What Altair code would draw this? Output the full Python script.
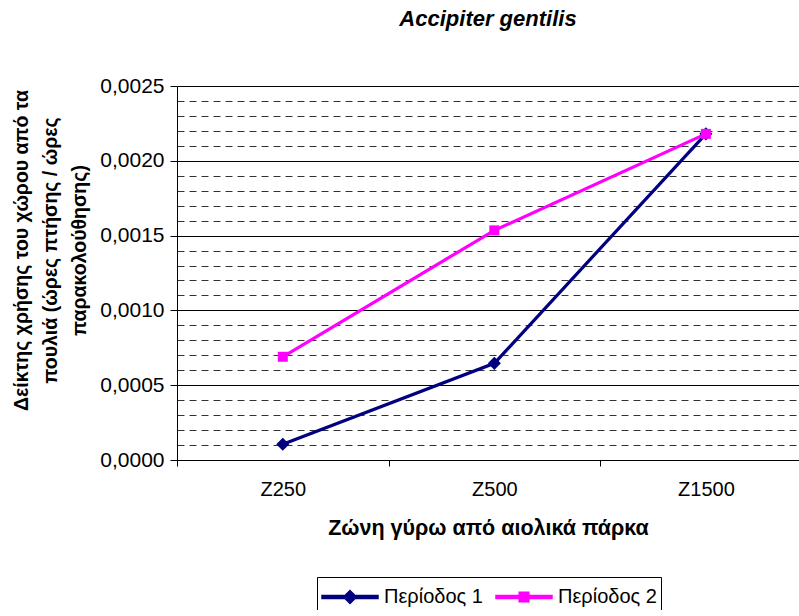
import json
import altair as alt
import pandas as pd

# ---- data ----
categories = ["Z250", "Z500", "Z1500"]
series_names = ["Περίοδος 1", "Περίοδος 2"]
period1 = [0.000105, 0.000646, 0.00218]
period2 = [0.000690, 0.001535, 0.00218]
colors = ["#000080", "#FF00FF"]

rows = []
for s, vals in zip(series_names, [period1, period2]):
    for i, (c, v) in enumerate(zip(categories, vals)):
        rows.append({"series": s, "zone": c, "idx": i, "value": v})
df = pd.DataFrame(rows)

FONT = "Liberation Sans"

# tick positions (axis configuration)
y_ticks = [i / 10000 for i in range(26)]
x_ticks = [-0.5, 0, 0.5, 1, 1.5, 2]

major_test = "abs(round(datum.value*2000) - datum.value*2000) < 1e-6"
half_test = "abs(round(datum.value) - datum.value) > 0.25"
cat_js = json.dumps(categories, ensure_ascii=False)

x_enc = alt.X(
    "idx:Q",
    scale=alt.Scale(domain=[-0.5, 2.44], nice=False, zero=False),
    axis=alt.Axis(
        values=x_ticks, tickCount=len(x_ticks),
        title="Ζώνη γύρω από αιολικά πάρκα",
        titleFont=FONT, titleFontSize=21.5, titleFontWeight="bold", titleColor="black",
        titlePadding=18,
        labelExpr=f"{half_test} ? '' : ({cat_js}[round(datum.value)] || '')",
        labelFont=FONT, labelFontSize=20, labelColor="black", labelPadding=13,
        labelOverlap=False, labelFlush=False,
        tickOpacity={"condition": {"test": half_test, "value": 1}, "value": 0},
        tickColor="black", tickSize=6, tickWidth=1,
        domainColor="black", domainWidth=1,
        grid=False,
    ),
)

y_enc = alt.Y(
    "value:Q",
    scale=alt.Scale(domain=[0, 0.0025], nice=False, zero=True),
    axis=alt.Axis(
        values=y_ticks, tickCount=len(y_ticks),
        title=["Δείκτης χρήσης του χώρου από τα", "πουλιά (ώρες πτήσης / ώρες", "παρακολούθησης)"],
        titleFont=FONT, titleFontSize=19.5, titleFontWeight="bold", titleColor="black",
        titleLineHeight=29, titlePadding=10, titleY=164,
        labelExpr=f"{major_test} ? replace(format(datum.value, '.4f'), '.', ',') : ''",
        labelFont=FONT, labelFontSize=21, labelColor="black", labelPadding=6,
        labelOverlap=False, labelFlush=False,
        tickOpacity={"condition": {"test": major_test, "value": 1}, "value": 0},
        tickColor="black", tickSize=7, tickWidth=1,
        domainColor="black", domainWidth=1,
        grid=True,
        gridColor={"condition": {"test": major_test, "value": "black"}, "value": "#333333"},
        gridDash={"condition": {"test": major_test, "value": []}, "value": [7, 5]},
        gridWidth=1,
    ),
)

color_scale = alt.Scale(domain=series_names, range=colors)

base = alt.Chart(df)

# legend symbols: line with marker; unit = 15px, symbol nominal center at +15px
diamond_line = ("M-1,-0.1L0.533,-0.1L0.867,-0.433L1.2,-0.1L2.733,-0.1L2.733,0.1"
                "L1.2,0.1L0.867,0.433L0.533,0.1L-1,0.1Z")
square_line = ("M-1,-0.1L0.547,-0.1L0.547,-0.32L1.187,-0.32L1.187,-0.1L2.733,-0.1"
               "L2.733,0.1L1.187,0.1L1.187,0.32L0.547,0.32L0.547,0.1L-1,0.1Z")

legend_props = dict(
    title=None, orient="none", legendX=140, legendY=491,
    direction="horizontal",
    labelFont=FONT, labelFontSize=20, labelColor="black",
    symbolSize=900, labelOffset=31, columnPadding=10,
    strokeColor="black", padding=4,
)

# legend-only layer (no marks drawn), placed first so its legend settings win
legend_layer = base.transform_filter("false").mark_point(
    filled=True, size=900, opacity=1, strokeWidth=0
).encode(
    x=x_enc, y=y_enc,
    color=alt.Color("series:N", scale=color_scale, legend=alt.Legend(**legend_props)),
    shape=alt.Shape(
        "series:N",
        scale=alt.Scale(domain=series_names, range=[diamond_line, square_line]),
        legend=alt.Legend(**legend_props),
    ),
)

lines = base.mark_line(strokeWidth=3.2).encode(
    x="idx:Q", y="value:Q",
    color=alt.Color("series:N", scale=color_scale, legend=None),
    detail="series:N",
)

pts1 = base.transform_filter(alt.datum.series == series_names[0]).mark_point(
    shape="diamond", filled=True, size=170, opacity=1
).encode(
    x="idx:Q", y="value:Q",
    color=alt.Color("series:N", scale=color_scale, legend=None),
)
pts2 = base.transform_filter(alt.datum.series == series_names[1]).mark_point(
    shape="square", filled=True, size=100, opacity=1
).encode(
    x="idx:Q", y="value:Q",
    color=alt.Color("series:N", scale=color_scale, legend=None),
)

chart = alt.layer(legend_layer, lines, pts1, pts2).properties(
    width=622,
    height=374,
    title=alt.TitleParams(
        "Accipiter gentilis", font=FONT, fontSize=22, fontStyle="italic",
        fontWeight="bold", anchor="middle", offset=44, color="black",
    ),
    autosize=alt.AutoSizeParams(type="none"),
    padding={"left": 177, "top": 86, "right": 0, "bottom": 150},
    background="white",
).configure_view(stroke=None)

chart.save("out.html", embed_options={"renderer": "svg", "actions": False})
